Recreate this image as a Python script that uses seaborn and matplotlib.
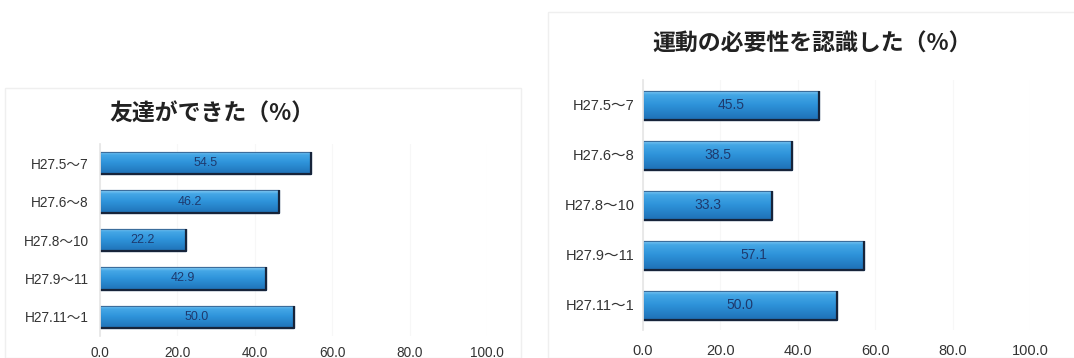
import matplotlib
matplotlib.use("Agg")
import matplotlib.pyplot as plt
import matplotlib.patches as mpatches
import numpy as np
import pandas as pd
import seaborn as sns

periods = ["H27.5～7", "H27.6～8", "H27.8～10", "H27.9～11", "H27.11～1"]
friends_pct = [54.5, 46.2, 22.2, 42.9, 50.0]
exercise_pct = [45.5, 38.5, 33.3, 57.1, 50.0]
title_friends = "友達ができた（%）"
title_exercise = "運動の必要性を認識した（%）"
x_ticks = [0, 20, 40, 60, 80, 100]

sns.set_theme(style="white")
plt.rcParams["font.family"] = ["Liberation Sans", "Noto Sans CJK JP", "DejaVu Sans"]

fig = plt.figure(figsize=(10.74, 3.58), dpi=100)
fig.patch.set_facecolor("white")

# faint chart-area frames, kept behind the axes
fig.patches.append(mpatches.Rectangle((5 / 1074, 0), 516 / 1074, 1 - 88 / 358,
                                      transform=fig.transFigure, facecolor="none",
                                      edgecolor="#efefef", linewidth=1.0, zorder=-5))
fig.patches.append(mpatches.Rectangle((548 / 1074, 0), 530 / 1074, 1 - 12 / 358,
                                      transform=fig.transFigure, facecolor="none",
                                      edgecolor="#efefef", linewidth=1.0, zorder=-5))

grad = np.linspace(0, 1, 64).reshape(-1, 1)
cmap = matplotlib.colors.LinearSegmentedColormap.from_list(
    "barshade", [(0.0, "#8fd2f7"), (0.15, "#45a7e6"), (0.5, "#2e93da"), (1.0, "#1f72b8")])


def draw_panel(ax, values, title, label_size, tick_size, ytick_pad, title_size,
               title_pos, tick_pad):
    df = pd.DataFrame({"period": periods, "pct": values})
    sns.barplot(data=df, y="period", x="pct", orient="h", ax=ax, width=0.58,
                color="#2e8fd6", edgecolor="#3b6d9c", linewidth=0.8, saturation=1)
    ax.set_xticks(x_ticks)
    ax.set_xticklabels([f"{t:.1f}" for t in x_ticks], fontsize=tick_size, color="#333333")
    ax.tick_params(axis="y", labelsize=tick_size, colors="#333333", length=0, pad=ytick_pad)
    ax.tick_params(axis="x", length=0, pad=tick_pad)
    ax.set_xlabel("")
    ax.set_ylabel("")
    for s in ["top", "right", "bottom"]:
        ax.spines[s].set_visible(False)
    ax.spines["left"].set_color("#e6e6e6")
    ax.grid(axis="x", color="#f7f7f7", linewidth=0.8)
    ax.set_axisbelow(True)
    ax.set_facecolor("none")
    # shaded fill clipped to each bar, with a darker lower/right rim
    for patch, v in zip(list(ax.patches), values):
        x0, y0 = patch.get_x(), patch.get_y()
        w, h = patch.get_width(), patch.get_height()
        z = patch.get_zorder()
        im = ax.imshow(grad, cmap=cmap, aspect="auto", extent=(x0, x0 + w, y0 + h, y0),
                       zorder=z + 0.1, interpolation="bicubic")
        im.set_clip_path(patch)
        ax.add_patch(mpatches.Rectangle((x0, y0), w, h, fill=False, edgecolor="#3b6d9c",
                                        linewidth=0.8, zorder=z + 0.2))
        ax.plot([x0, x0 + w, x0 + w], [y0 + h, y0 + h, y0], color="#17243a",
                linewidth=1.6, solid_capstyle="butt", zorder=z + 0.25)
        ax.text(w / 2, y0 + h / 2, f"{v:.1f}", ha="center", va="center",
                fontsize=label_size, color="#1e3a6e", zorder=z + 0.3)
    ax.set_ylim(len(values) - 0.5, -0.5)
    ax.set_xlim(0, 100)
    fig.text(title_pos[0], title_pos[1], title, ha="center", va="center",
             fontsize=title_size, fontweight="bold", color="#222222",
             family=["Noto Sans CJK JP", "DejaVu Sans"])


ax1 = fig.add_axes([100 / 1074, 1 - 336 / 358, 387 / 1074, 192 / 358])
draw_panel(ax1, friends_pct, title_friends, 9, 9.8, 8, 16.5, (212 / 1074, 1 - 114 / 358), 7)

ax2 = fig.add_axes([643 / 1074, 1 - 330 / 358, 387 / 1074, 250 / 358])
draw_panel(ax2, exercise_pct, title_exercise, 10, 10.5, 6, 16.5, (812 / 1074, 1 - 44 / 358), 10)

fig.savefig("out.png", dpi=100, facecolor="white")
